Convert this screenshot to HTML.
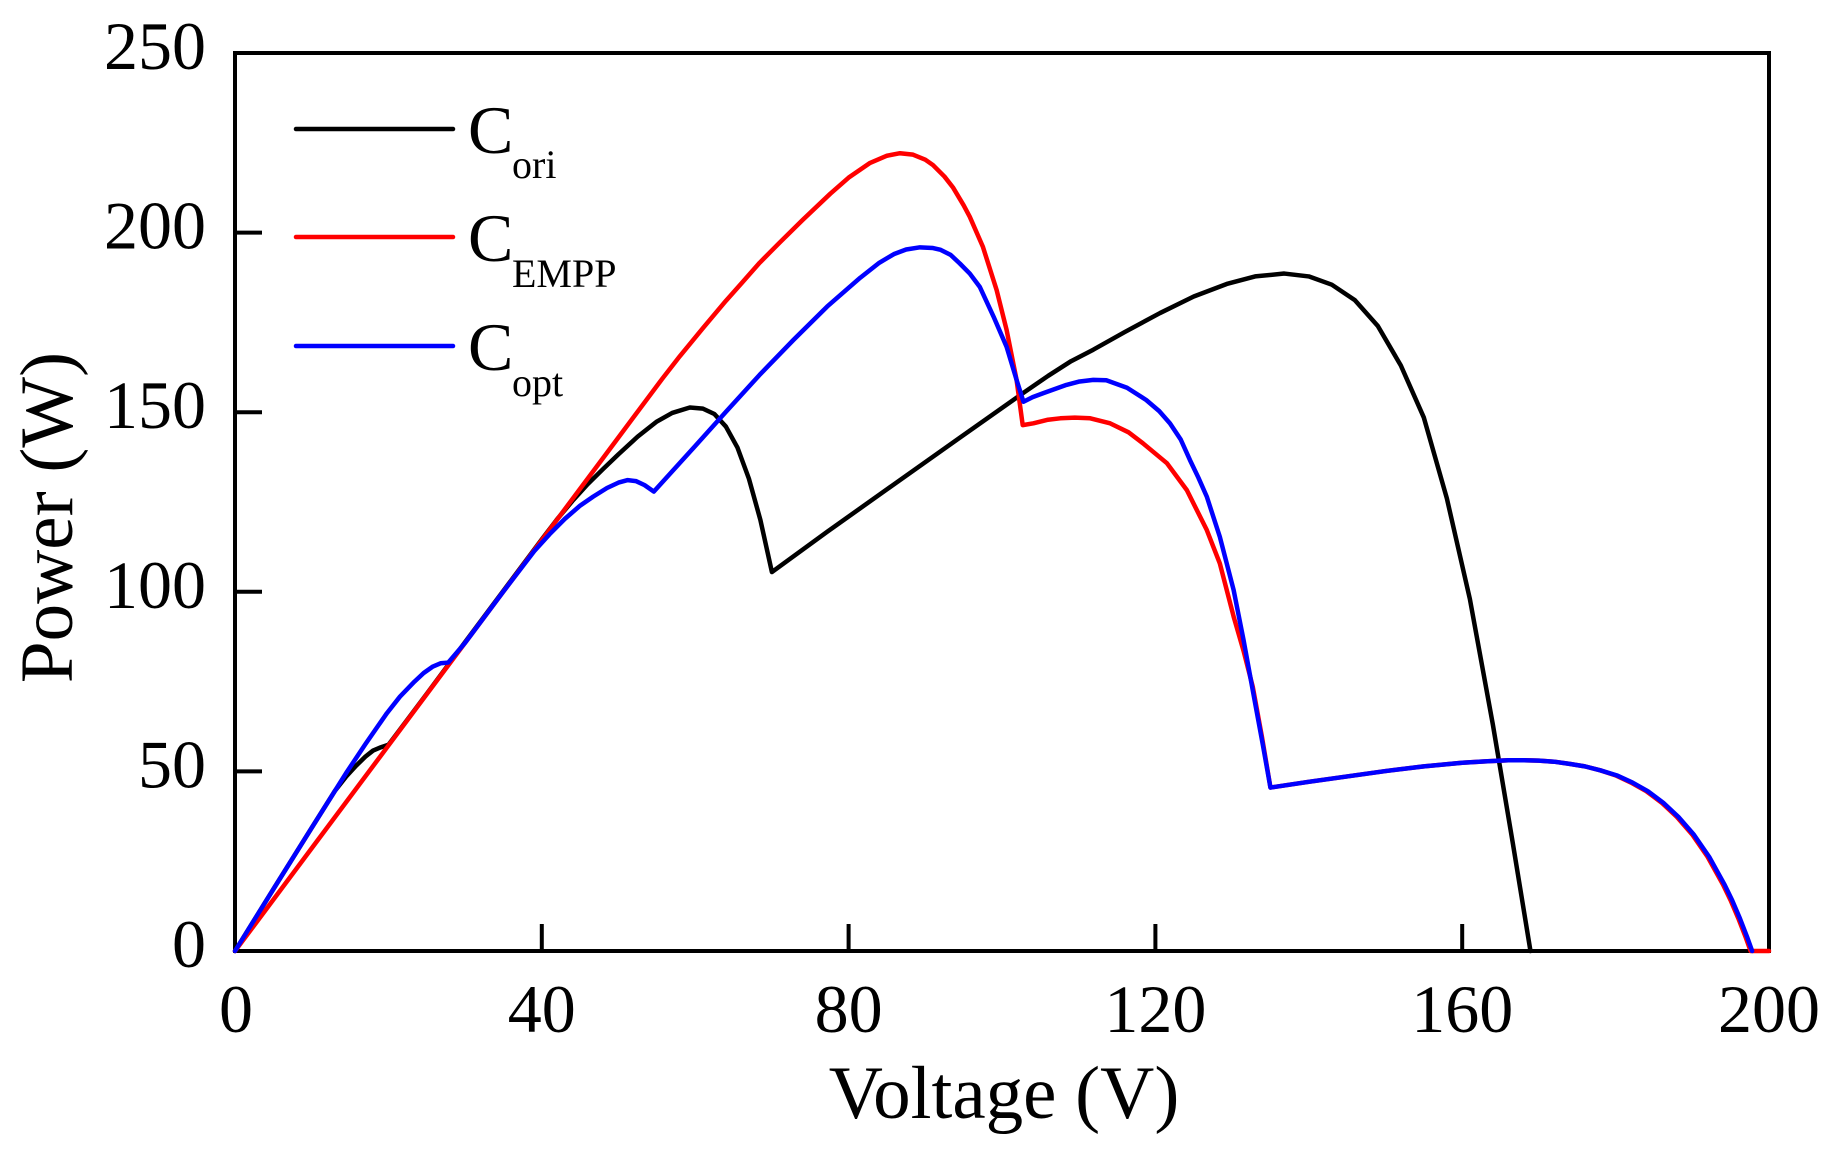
<!DOCTYPE html>
<html>
<head>
<meta charset="utf-8">
<style>
  html, body { margin:0; padding:0; background:#fff; }
  svg { display:block; }
  text { font-family: "Liberation Serif", "Times New Roman", serif; fill:#000; }
</style>
</head>
<body>
<svg width="1836" height="1158" viewBox="0 0 1836 1158" xmlns="http://www.w3.org/2000/svg">
  <rect x="0" y="0" width="1836" height="1158" fill="#fff"/>

  <!-- frame -->
  <rect x="235" y="53" width="1534" height="898" fill="none" stroke="#000" stroke-width="4"/>

  <!-- ticks -->
  <g stroke="#000" stroke-width="4">
    <line x1="235" y1="771.4" x2="262" y2="771.4"/>
    <line x1="235" y1="591.8" x2="262" y2="591.8"/>
    <line x1="235" y1="412.2" x2="262" y2="412.2"/>
    <line x1="235" y1="232.6" x2="262" y2="232.6"/>
    <line x1="541.8" y1="951" x2="541.8" y2="924"/>
    <line x1="848.6" y1="951" x2="848.6" y2="924"/>
    <line x1="1155.4" y1="951" x2="1155.4" y2="924"/>
    <line x1="1462.2" y1="951" x2="1462.2" y2="924"/>
  </g>

  <!-- y tick labels -->
  <g font-size="68" text-anchor="end">
    <text x="206" y="967">0</text>
    <text x="206" y="787.4">50</text>
    <text x="206" y="607.8">100</text>
    <text x="206" y="428.2">150</text>
    <text x="206" y="248.6">200</text>
    <text x="206" y="69">250</text>
  </g>

  <!-- x tick labels -->
  <g font-size="68" text-anchor="middle">
    <text x="236" y="1032">0</text>
    <text x="541.8" y="1032">40</text>
    <text x="848.6" y="1032">80</text>
    <text x="1155.4" y="1032">120</text>
    <text x="1462.2" y="1032">160</text>
    <text x="1769" y="1032">200</text>
  </g>

  <!-- axis titles -->
  <text x="1004" y="1118" font-size="75" text-anchor="middle">Voltage (V)</text>
  <text transform="translate(72,517.5) rotate(-90)" font-size="75" text-anchor="middle">Power (W)</text>

  <!-- series -->
  <g transform="translate(235,951) scale(7.67,-3.592)" fill="none" stroke-linejoin="round" stroke-linecap="round">
    <polyline vector-effect="non-scaling-stroke" stroke="#000" stroke-width="4.5" points="
      0,0 5,17.2 10,34.3 13,44.5 14.5,48.6 15.8,51.6 17,54.1 18,55.8 19,56.7 20,57.4 21,60.2 25,71.6 30,86 35,100.3 40,114.6
      42,120.2 44,125.3 46,130 48,134.2 50,138.3 52.5,143.2 55,147.4 57,149.8 59.3,151.3 61,151.0 62.5,149.5 64,146 65.5,140.2
      67,131.5 68.5,120 70,105.5 77.2,116.7 85.9,129.9 94.5,142.9 102.8,155.4 106,160.1 109,164.2 111.9,167.4 116,172.3
      120.6,177.6 125,182.2 129.3,185.7 133,187.8 136.8,188.6 140,187.8 143,185.5 146,181.2 149,174 152,163 155,148.5
      158,126 161,98 164,63 166.6,30 168.9,0"/>
    <polyline vector-effect="non-scaling-stroke" stroke="#ff0000" stroke-width="4.5" points="
      0,0 10,28.6 20,57.2 30,85.8 40,114.4 50,143 55.7,159.3 58,165.6 61,173.4 64,181 66,185.8 68.4,191.6 71,197.2 74,203.5
      77.6,210.8 80,215.3 82.8,219.4 85,221.4 86.7,222.1 88.4,221.7 90,220.3 91,218.8 92.5,215.6 93.6,212.6 95,207.6 95.8,204.4
      97.5,196.1 99.3,184 100.6,172.9 101.9,159 102.7,146.4 104.1,146.9 106,147.9 107.6,148.3 109.5,148.5 111.5,148.3
      114.1,146.9 116.5,144.4 118.4,141.3 121.5,135.8 124.1,128.3 126.7,117.2 128.4,107.9 130.2,93.1 131.5,83.5 132.7,73.5
      133.9,59.5 135,45.5 140,47.1 145,48.6 150,50.1 155,51.4 160,52.4 163,52.8 166,53.1 168,53.1 170,53.0 172,52.7 174,52.1
      176,51.4 178,50.3 180,48.9 182,46.9 184,44.5 186,41.3 188,37.3 190,32.4 192,26.2 194,18.5 195,14.1 196,9.1 197,3.6
      197.6,0 200,0"/>
    <polyline vector-effect="non-scaling-stroke" stroke="#0000ff" stroke-width="4.5" points="
      0,0 5.75,19.8 10,34.3 14.6,49.9 17,57.6 19.8,66.2 21.5,70.8 23.4,75 24.6,77.4 25.8,79.2 26.8,80.1 27.8,80.3 30,85.8
      35,100.1 39,111.3 41,116 43,120.3 45,124 46.7,126.5 48.5,128.9 50,130.4 51.2,131.1 52.3,130.8 53.4,129.7 54.6,127.9
      60,140.6 64,150.1 68.4,160.4 72.8,170.1 77.2,179.4 81.5,187.4 84,191.6 85.9,194 87.5,195.3 89.3,195.9 91,195.7 92,195.2
      93.3,193.8 94.5,191.4 95.8,188.6 97.1,184.9 98.9,176.6 100.6,168.2 101.9,159 102.8,152.9 104,154.2 105.4,155.3
      108.4,157.6 110,158.5 111.9,159 113.6,158.9 116.3,156.8 118.8,153.4 120.5,150.3 121.9,146.9 123.3,142.4 124.5,136.7
      125.6,131.8 126.7,126.5 128.4,115.3 130.2,100.5 131.5,86.5 133,69 134,57.5 135,45.5 140,47.1 145,48.6 150,50.1
      155,51.4 160,52.4 163,52.8 166,53.1 168,53.1 170,53.0 172,52.7 174,52.1 176,51.4 178,50.3 180.15,48.9 182.2,46.9
      184.2,44.5 186.2,41.3 188.2,37.3 190.2,32.4 192.2,26.2 194.2,18.5 195.2,14.1 196.2,9.1 197.2,3.6 197.8,0"/>
  </g>

  <!-- legend -->
  <g stroke-width="4.5" stroke-linecap="round">
    <line x1="296" y1="129" x2="453" y2="129" stroke="#000"/>
    <line x1="296" y1="237" x2="453" y2="237" stroke="#ff0000"/>
    <line x1="296" y1="346" x2="453" y2="346" stroke="#0000ff"/>
  </g>
  <g>
    <text x="468" y="153" font-size="68">C</text>
    <text x="512" y="178" font-size="40">ori</text>
    <text x="468" y="261" font-size="68">C</text>
    <text x="512" y="287" font-size="40">EMPP</text>
    <text x="468" y="370" font-size="68">C</text>
    <text x="512" y="396" font-size="40">opt</text>
  </g>
</svg>
</body>
</html>
